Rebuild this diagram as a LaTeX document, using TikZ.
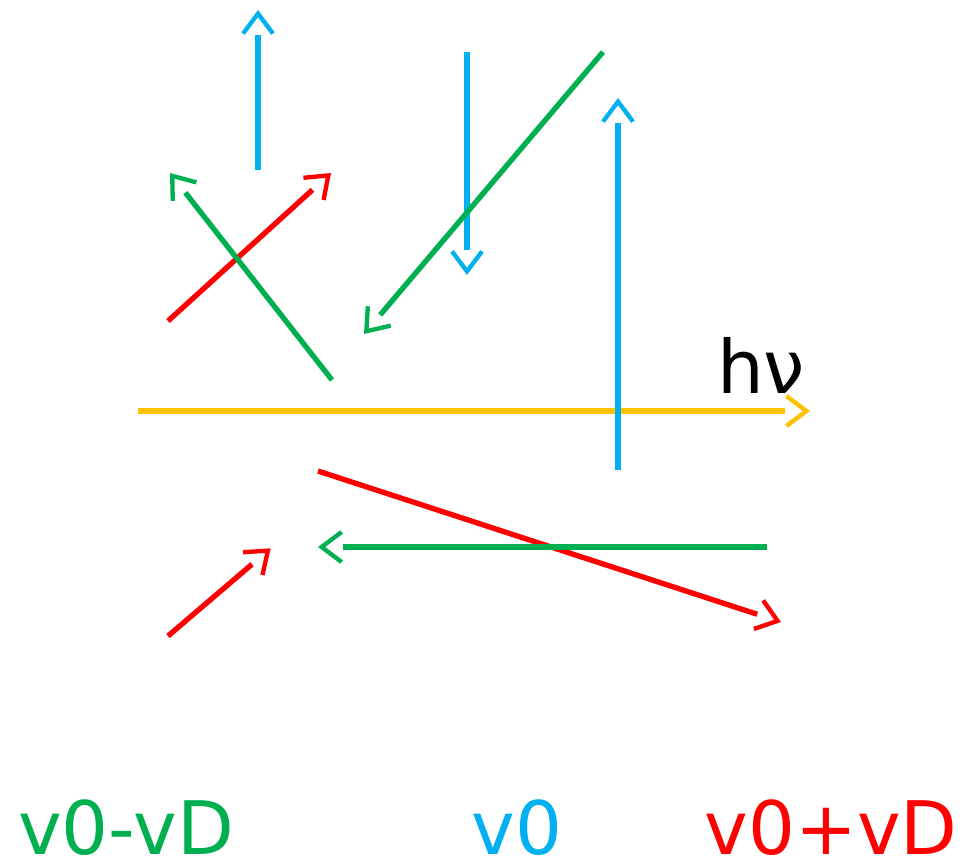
\documentclass[tikz,border=0pt]{standalone}
\usepackage{fontspec}
\setmainfont{DejaVu Sans}
\usetikzlibrary{arrows.meta,decorations.markings}
\definecolor{cblue}{HTML}{00B0F0}
\definecolor{cgreen}{HTML}{00B050}
\definecolor{cred}{HTML}{FF0000}
\definecolor{cyellow}{HTML}{FFC000}
\begin{document}
\begin{tikzpicture}[x=0.03cm,y=-0.03cm,
  vec/.style={line width=0.16cm, shorten >=0.75cm,
    postaction={decorate, decoration={markings,
      mark=at position 1 with {\arrow[line width=0.13cm]{Straight Barb[length=0.6cm,width=0.9cm]}}}}},
  lbl/.style={inner sep=0pt, anchor=base, font=\fontsize{63}{72}\selectfont}]
\useasboundingbox (0,0) rectangle (965,862);
% coordinates
\coordinate (y0) at (138,411); \coordinate (y1) at (810,411);
\coordinate (b1s) at (258,170); \coordinate (b1e) at (258,10);
\coordinate (b2s) at (467,52);  \coordinate (b2e) at (467,275);
\coordinate (b3s) at (618,470); \coordinate (b3e) at (618,98);
\coordinate (g1s) at (332,380); \coordinate (g1e) at (170,173);
\coordinate (g2s) at (603,52);  \coordinate (g2e) at (364,334);
\coordinate (g3s) at (767,547); \coordinate (g3e) at (318,547);
\coordinate (r1s) at (168,321); \coordinate (r1e) at (331,173);
\coordinate (r2s) at (318,471); \coordinate (r2e) at (781,622);
\coordinate (r3s) at (168,636); \coordinate (r3e) at (271,548);
% photon
\draw[vec, cyellow] (y0) -- (y1);
% vectors
\draw[vec, cred] (r1s) -- (r1e);
\draw[vec, cgreen] (g1s) -- (g1e);
\draw[vec, cblue] (b1s) -- (b1e);
\draw[vec, cblue] (b2s) -- (b2e);
\draw[vec, cgreen] (g2s) -- (g2e);
\draw[vec, cblue] (b3s) -- (b3e);
\draw[vec, cred] (r2s) -- (r2e);
\draw[vec, cgreen] (g3s) -- (g3e);
\draw[vec, cred] (r3s) -- (r3e);
% labels
\node[lbl] (hnu) at (761,393) {hν};
\node[lbl, cgreen] (lg) at (126,854) {v0-vD};
\node[lbl, cblue] (lb) at (517,854) {v0};
\node[lbl, cred] (lr) at (831,854) {v0+vD};
\end{tikzpicture}
\end{document}
